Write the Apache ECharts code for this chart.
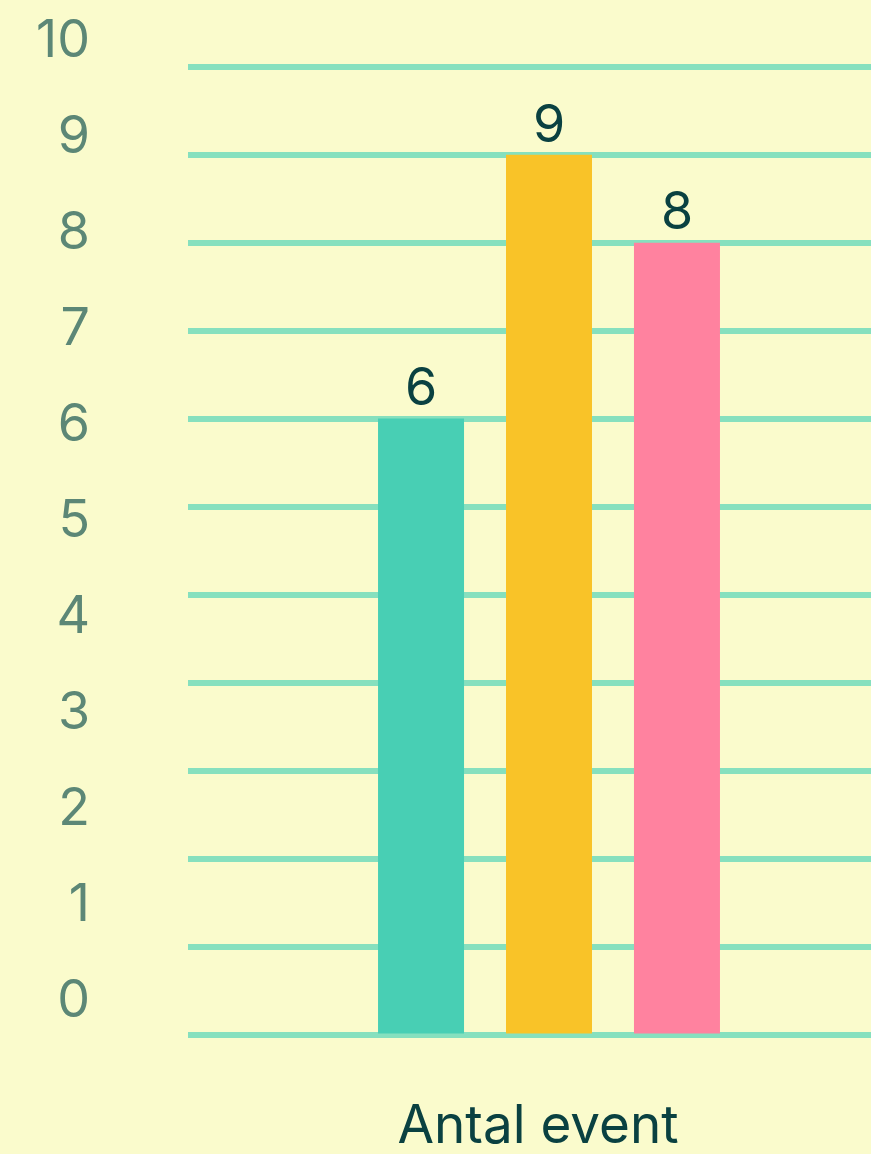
<!DOCTYPE html>
<html>
<head>
<meta charset="utf-8">
<script src="https://cdn.jsdelivr.net/npm/echarts@6/dist/echarts.min.js"></script>
<style>
    html, body { margin: 0; padding: 0; background: #fafbcc; }
    #chart { width: 871px; height: 1154px; }
</style>
</head>
<body>
<div id="chart"></div>
<script>
    // data
    const categories = ['Antal event'];
    const seriesNames = ['Event 1', 'Event 2', 'Event 3'];
    const values = [6, 9, 8];
    const tickLabels = ['0', '1', '2', '3', '4', '5', '6', '7', '8', '9', '10'];
    const gridMin = -1;   // bars and lines start one step below 0
    const gridMax = 10;

    const colors = ['#48cfb4', '#f9c328', '#ff829f'];
    const font = 'Inter, "Noto Sans", sans-serif';

    let myChart = echarts.init(document.getElementById('chart'), null, {renderer: 'canvas'});

    let series = values.map(function (v, i) {
        return {
            name: seriesNames[i],
            type: 'bar',
            xAxisIndex: 1,
            yAxisIndex: 1,
            barWidth: 86,
            barGap: '48.8%',
            data: [v],
            itemStyle: {color: colors[i]},
            label: {
                show: true,
                position: 'top',
                distance: 3,
                color: '#0a4141',
                fontFamily: font,
                fontSize: 52,
                lineHeight: 52
            }
        };
    });

    myChart.setOption({
        backgroundColor: '#fafbcc',
        animation: false,
        grid: [{
            // grid lines
            left: 188,
            right: 0,
            top: 67,
            height: 968
        }, {
            // bars, group centred at x=549
            left: 227,
            right: 0,
            top: 67,
            height: 968
        }, {
            // tick labels 0..10
            left: 90,
            width: 10,
            top: 41,
            height: 960
        }],
        xAxis: [{
            type: 'category',
            gridIndex: 0,
            data: categories,
            show: false
        }, {
            type: 'category',
            gridIndex: 1,
            data: categories,
            axisLine: {show: false},
            axisTick: {show: false},
            axisLabel: {
                margin: 68,
                padding: [0, 22, 0, 0],
                color: '#0a4141',
                fontFamily: font,
                fontSize: 53,
                lineHeight: 52
            }
        }, {
            type: 'value',
            gridIndex: 2,
            show: false
        }],
        yAxis: [{
            type: 'value',
            gridIndex: 0,
            min: gridMin,
            max: gridMax,
            interval: 1,
            axisLabel: {show: false},
            axisLine: {show: false},
            axisTick: {show: false},
            splitLine: {
                show: true,
                lineStyle: {color: '#86e0be', width: 6}
            }
        }, {
            type: 'value',
            gridIndex: 1,
            min: gridMin,
            max: gridMax,
            startValue: gridMin,
            interval: 1,
            show: false,
            splitLine: {show: false}
        }, {
            type: 'value',
            gridIndex: 2,
            min: 0,
            max: tickLabels.length - 1,
            interval: 1,
            axisLine: {show: false},
            axisTick: {show: false},
            splitLine: {show: false},
            axisLabel: {
                margin: 0,
                color: '#5c8776',
                fontFamily: font,
                fontSize: 52,
                formatter: function (value) {
                    return tickLabels[value];
                }
            }
        }],
        series: series
    });
</script>
</body>
</html>
